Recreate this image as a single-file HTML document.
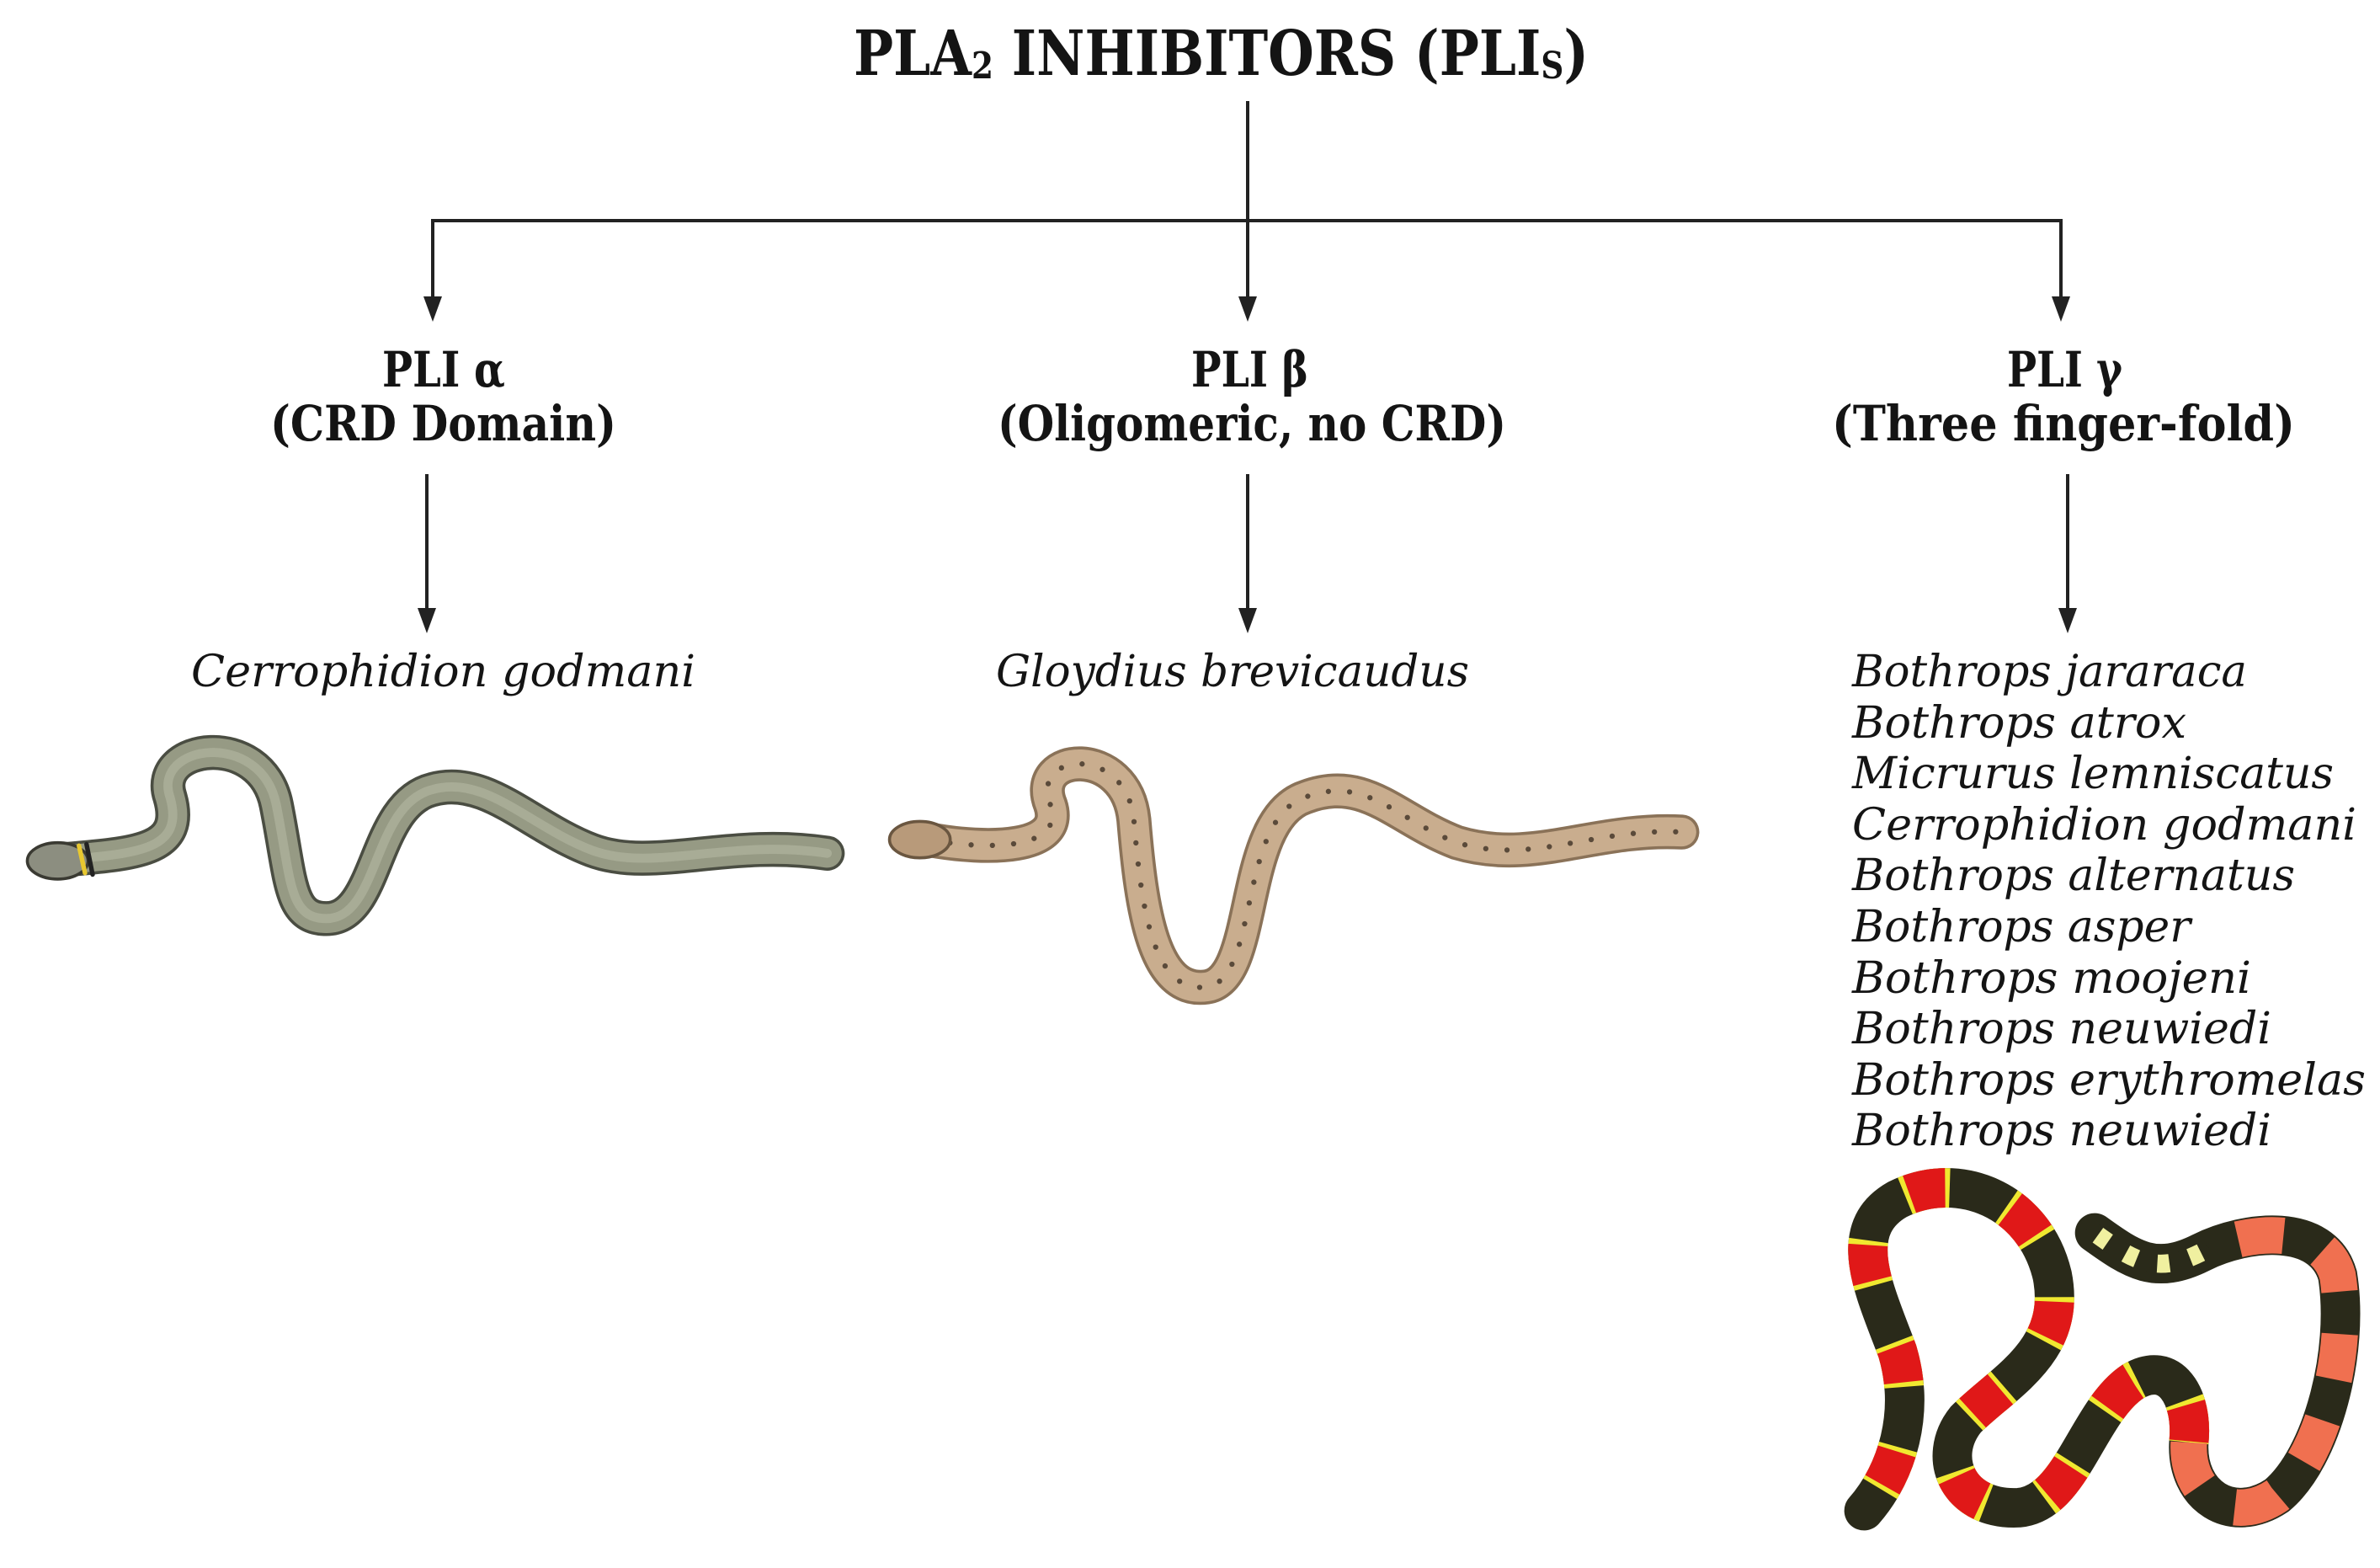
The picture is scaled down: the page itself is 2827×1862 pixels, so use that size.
<!DOCTYPE html>
<html><head><meta charset="utf-8"><style>
html,body{margin:0;padding:0;background:#fff;}
svg{display:block;}
.h{font-family:"DejaVu Serif","Liberation Serif",serif;font-weight:bold;fill:#141414;}
.l{font-family:"DejaVu Serif","Liberation Serif",serif;font-weight:bold;fill:#141414;}
.i{font-family:"DejaVu Serif","Liberation Serif",serif;font-style:italic;fill:#141414;}
</style></head><body>
<svg width="2827" height="1862" viewBox="0 0 2827 1862" xmlns="http://www.w3.org/2000/svg">
<!-- title -->
<text class="h" x="1014" y="89" font-size="74" textLength="873" lengthAdjust="spacingAndGlyphs">PLA<tspan font-size="44" dy="4">2</tspan><tspan dy="-4"> INHIBITORS (PLI</tspan><tspan font-size="44" dy="4">S</tspan><tspan dy="-4">)</tspan></text>
<!-- connectors -->
<g stroke="#222" stroke-width="4" fill="none">
<line x1="1482" y1="120" x2="1482" y2="355"/>
<polyline points="514,355 514,262 2448,262 2448,355"/>
<line x1="507" y1="563" x2="507" y2="725"/>
<line x1="1482" y1="563" x2="1482" y2="725"/>
<line x1="2456" y1="563" x2="2456" y2="725"/>
</g>
<g fill="#222">
<polygon points="503,352 525,352 514,382"/>
<polygon points="1471,352 1493,352 1482,382"/>
<polygon points="2437,352 2459,352 2448,382"/>
<polygon points="496,722 518,722 507,752"/>
<polygon points="1471,722 1493,722 1482,752"/>
<polygon points="2445,722 2467,722 2456,752"/>
</g>
<!-- labels -->
<text class="l" x="454" y="459" font-size="58" textLength="146" lengthAdjust="spacingAndGlyphs">PLI α</text>
<text class="l" x="321" y="523" font-size="58" textLength="411" lengthAdjust="spacingAndGlyphs">(CRD Domain)</text>
<text class="l" x="1415" y="459" font-size="58" textLength="139" lengthAdjust="spacingAndGlyphs">PLI β</text>
<text class="l" x="1185" y="523" font-size="58" textLength="604" lengthAdjust="spacingAndGlyphs">(Oligomeric, no CRD)</text>
<text class="l" x="2384" y="459" font-size="58" textLength="137" lengthAdjust="spacingAndGlyphs">PLI γ</text>
<text class="l" x="2176" y="523" font-size="58" textLength="550" lengthAdjust="spacingAndGlyphs">(Three finger-fold)</text>
<!-- species -->
<text class="i" x="227" y="815" font-size="52" textLength="599" lengthAdjust="spacingAndGlyphs">Cerrophidion godmani</text>
<text class="i" x="1183" y="815" font-size="52" textLength="562" lengthAdjust="spacingAndGlyphs">Gloydius brevicaudus</text>
<g font-size="52">
<text class="i" x="2200" y="815" textLength="469" lengthAdjust="spacingAndGlyphs">Bothrops jararaca</text>
<text class="i" x="2200" y="876" textLength="397" lengthAdjust="spacingAndGlyphs">Bothrops atrox</text>
<text class="i" x="2200" y="936" textLength="572" lengthAdjust="spacingAndGlyphs">Micrurus lemniscatus</text>
<text class="i" x="2200" y="997" textLength="599" lengthAdjust="spacingAndGlyphs">Cerrophidion godmani</text>
<text class="i" x="2200" y="1057" textLength="526" lengthAdjust="spacingAndGlyphs">Bothrops alternatus</text>
<text class="i" x="2200" y="1118" textLength="402" lengthAdjust="spacingAndGlyphs">Bothrops asper</text>
<text class="i" x="2200" y="1179" textLength="474" lengthAdjust="spacingAndGlyphs">Bothrops moojeni</text>
<text class="i" x="2200" y="1239" textLength="498" lengthAdjust="spacingAndGlyphs">Bothrops neuwiedi</text>
<text class="i" x="2200" y="1300" textLength="610" lengthAdjust="spacingAndGlyphs">Bothrops erythromelas</text>
<text class="i" x="2200" y="1360" textLength="498" lengthAdjust="spacingAndGlyphs">Bothrops neuwiedi</text>
</g>
<!-- snakes in displayed coords -->
<g transform="scale(1.803)" fill="none" stroke-linecap="round">
<!-- snake 1 -->
<path d="M45 566 C90 562 122 560 112 525 C100 490 172 480 182 530 C192 580 190 605 215 605 C250 605 245 530 285 520 C320 510 350 545 390 560 C430 575 480 552 545 562" stroke="#4a4d42" stroke-width="23"/>
<path d="M45 566 C90 562 122 560 112 525 C100 490 172 480 182 530 C192 580 190 605 215 605 C250 605 245 530 285 520 C320 510 350 545 390 560 C430 575 480 552 545 562" stroke="#969a84" stroke-width="19"/>
<path d="M45 566 C90 562 122 560 112 525 C100 490 172 480 182 530 C192 580 190 605 215 605 C250 605 245 530 285 520 C320 510 350 545 390 560 C430 575 480 552 545 562" stroke="#a8ac96" stroke-width="6"/>
<ellipse cx="38" cy="567" rx="20" ry="12" fill="#8c8e80" stroke="#3a3a32" stroke-width="2"/>
<path d="M52 557 L56 575" stroke="#e8c830" stroke-width="3"/>
<path d="M57 556 L61 576" stroke="#222" stroke-width="3"/>
<!-- snake 2 -->
<path d="M612 553 C650 560 702 560 692 530 C678 495 742 490 747 540 C752 600 760 655 795 650 C830 645 815 540 860 525 C900 510 920 540 960 555 C1010 570 1050 545 1108 548" stroke="#8a7258" stroke-width="23"/>
<path d="M612 553 C650 560 702 560 692 530 C678 495 742 490 747 540 C752 600 760 655 795 650 C830 645 815 540 860 525 C900 510 920 540 960 555 C1010 570 1050 545 1108 548" stroke="#c9ad8e" stroke-width="19"/>
<path d="M612 553 C650 560 702 560 692 530 C678 495 742 490 747 540 C752 600 760 655 795 650 C830 645 815 540 860 525 C900 510 920 540 960 555 C1010 570 1050 545 1108 548" stroke="#5a4a3a" stroke-width="3.5" stroke-dasharray="0 14"/>
<ellipse cx="606" cy="553" rx="20" ry="12" fill="#b89a7a" stroke="#6a5640" stroke-width="2"/>
<!-- coral snake -->
<path d="M1228 995 C1250 970 1262 930 1250 890 C1235 850 1215 810 1250 790 C1290 770 1340 790 1352 840 C1362 890 1320 910 1295 935 C1275 960 1290 995 1330 993 C1365 990 1375 930 1405 910 C1430 895 1445 920 1442 950 C1440 985 1470 1005 1500 985 C1530 960 1548 890 1540 840 C1530 805 1480 810 1450 825 C1420 840 1405 830 1380 812" stroke="#2a2a1a" stroke-width="26"/>
<path d="M1228 995 C1250 970 1262 930 1250 890 C1235 850 1215 810 1250 790 C1290 770 1340 790 1352 840 C1362 890 1320 910 1295 935 C1275 960 1290 995 1330 993 C1365 990 1375 930 1405 910 C1430 895 1445 920 1442 950" stroke="#f0e830" stroke-width="26" stroke-dasharray="0 18 30 22" stroke-linecap="butt"/>
<path d="M1228 995 C1250 970 1262 930 1250 890 C1235 850 1215 810 1250 790 C1290 770 1340 790 1352 840 C1362 890 1320 910 1295 935 C1275 960 1290 995 1330 993 C1365 990 1375 930 1405 910 C1430 895 1445 920 1442 950" stroke="#e01818" stroke-width="26" stroke-dasharray="0 21 24 25" stroke-linecap="butt"/>
<path d="M1442 950 C1440 985 1470 1005 1500 985 C1530 960 1548 890 1540 840 C1530 805 1480 810 1450 825" stroke="#f07050" stroke-width="24" stroke-dasharray="30 28" stroke-linecap="butt"/>
<path d="M1450 825 C1420 840 1405 830 1380 812" stroke="#2a2a1a" stroke-width="12"/>
<path d="M1450 825 C1420 840 1405 830 1380 812" stroke="#f0f0a0" stroke-width="12" stroke-dasharray="8 14" stroke-linecap="butt"/>
</g>
</svg>
</body></html>
